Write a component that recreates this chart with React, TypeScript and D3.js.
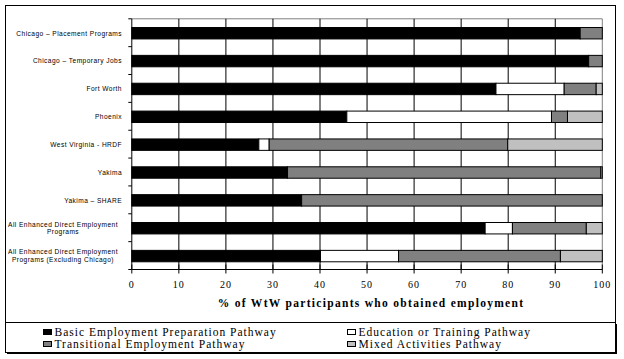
import React from 'react';
import * as d3 from 'd3';

// categories, top to bottom (multi-line labels split by '|')
const categories = [
  'Chicago – Placement Programs',
  'Chicago – Temporary Jobs',
  'Fort Worth',
  'Phoenix',
  'West Virginia - HRDF',
  'Yakima',
  'Yakima – SHARE',
  'All Enhanced Direct Employment|Programs',
  'All Enhanced Direct Employment|Programs (Excluding Chicago)',
];

const seriesNames = [
  'Basic Employment Preparation Pathway',
  'Education or Training Pathway',
  'Transitional Employment Pathway',
  'Mixed Activities Pathway',
];

// percent of participants, one array per pathway
const basicPrep = [95.3, 97.1, 77.4, 45.7, 27.0, 33.1, 36.1, 75.1, 40.1];
const education = [0, 0, 14.5, 43.5, 2.2, 0, 0, 5.8, 16.6];
const transitional = [4.7, 2.9, 6.8, 3.4, 50.7, 66.6, 63.9, 15.7, 34.4];
const mixed = [0, 0, 1.3, 7.4, 20.1, 0.3, 0, 3.4, 8.9];

const xTicks = [0, 10, 20, 30, 40, 50, 60, 70, 80, 90, 100];

const colors = ['#000000', '#ffffff', '#808080', '#c0c0c0'];

const W = 624;
const H = 359;
const plot = { left: 131.8, right: 602.3, top: 18.8, bottom: 269.5 };
const serif = '"Liberation Serif", "Times New Roman", serif';
const sans = '"Liberation Sans", Arial, sans-serif';

export default function App() {
  const series = [basicPrep, education, transitional, mixed];
  const rows = categories.map((c, i) => {
    const r: any = { cat: c };
    seriesNames.forEach((s, k) => (r[s] = series[k][i]));
    return r;
  });
  const stacked = d3.stack<any>().keys(seriesNames)(rows);

  const x = d3.scaleLinear().domain([0, 100]).range([plot.left, plot.right]);
  const y = d3
    .scaleBand()
    .domain(categories)
    .range([plot.top, plot.bottom])
    .padding(0);
  const barH = y.bandwidth() * 0.41;

  return (
    <svg
      width={W}
      height={H}
      style={{ position: 'absolute', left: 0, top: 0, background: '#fff' }}
    >
      {/* outer frame */}
      <rect x={5.5} y={5.5} width={610} height={317} fill="#fff" stroke="#000" strokeWidth={1} />

      {/* plot border (top / right in gray) */}
      <line x1={plot.left} x2={plot.right} y1={plot.top} y2={plot.top} stroke="#808080" />
      <line x1={plot.right} x2={plot.right} y1={plot.top} y2={plot.bottom} stroke="#808080" />

      {/* vertical gridlines */}
      {xTicks.slice(1, -1).map((t) => (
        <line key={'g' + t} x1={x(t)} x2={x(t)} y1={plot.top} y2={plot.bottom} stroke="#000" />
      ))}

      {/* bars */}
      {stacked.map((layer, k) =>
        layer.map((d, i) =>
          d[1] - d[0] > 0 ? (
            <rect
              key={k + '-' + i}
              x={x(d[0])}
              y={(y(categories[i]) as number) + y.bandwidth() / 2 - barH / 2 + 0.5}
              width={x(d[1]) - x(d[0])}
              height={barH}
              fill={colors[k]}
              stroke="#000"
              strokeWidth={1}
            />
          ) : null
        )
      )}

      {/* y axis */}
      <line x1={plot.left} x2={plot.left} y1={plot.top} y2={plot.bottom} stroke="#000" />
      {d3.range(categories.length + 1).map((i) => {
        const yy = plot.top + i * y.step();
        return <line key={'yt' + i} x1={plot.left - 3.5} x2={plot.left} y1={yy} y2={yy} stroke="#000" />;
      })}
      {categories.map((c) => {
        const cy = (y(c) as number) + y.bandwidth() / 2 + 0.5;
        const parts = c.split('|');
        if (parts.length === 1) {
          return (
            <text
              key={c}
              x={122}
              y={cy + 2.3}
              textAnchor="end"
              fontFamily={sans}
              fontSize={6.6}
              letterSpacing={0.45}
              fill="#000"
            >
              {c}
            </text>
          );
        }
        return (
          <text
            key={c}
            x={63}
            y={cy - 1.6}
            textAnchor="middle"
            fontFamily={sans}
            fontSize={6.6}
            letterSpacing={0.45}
            fill="#000"
          >
            {parts.map((p, j) => (
              <tspan key={j} x={63} dy={j === 0 ? 0 : 7.8}>
                {p}
              </tspan>
            ))}
          </text>
        );
      })}

      {/* x axis */}
      <line x1={plot.left} x2={plot.right} y1={plot.bottom} y2={plot.bottom} stroke="#000" />
      {xTicks.map((t) => (
        <g key={'xt' + t}>
          <line x1={x(t)} x2={x(t)} y1={plot.bottom - 5} y2={plot.bottom + 4} stroke="#000" />
          <text
            x={x(t)}
            y={287.5}
            textAnchor="middle"
            fontFamily={serif}
            fontSize={10}
            letterSpacing={1}
            fill="#000"
          >
            {t}
          </text>
        </g>
      ))}
      <text
        x={(plot.left + plot.right) / 2 + 4}
        y={306.5}
        textAnchor="middle"
        fontFamily={serif}
        fontSize={11.5}
        fontWeight="bold"
        letterSpacing={1.3}
        fill="#000"
      >
        % of WtW participants who obtained employment
      </text>

      {/* legend box with drop shadow */}
      <rect x={7} y={324} width={610} height={30} fill="#000" />
      <rect x={5.5} y={322.5} width={610} height={30} fill="#fff" stroke="#000" strokeWidth={1} />
      {seriesNames.map((s, k) => {
        const lx = k % 2 === 0 ? 43.5 : 347.5;
        const ly = k < 2 ? 335.5 : 347.5;
        return (
          <g key={s}>
            <rect x={lx} y={ly - 6} width={8} height={5} fill={colors[k]} stroke="#000" strokeWidth={1} />
            <text
              x={lx + 11}
              y={ly}
              fontFamily={serif}
              fontSize={11.5}
              letterSpacing={1}
              fill="#000"
            >
              {s}
            </text>
          </g>
        );
      })}
    </svg>
  );
}
